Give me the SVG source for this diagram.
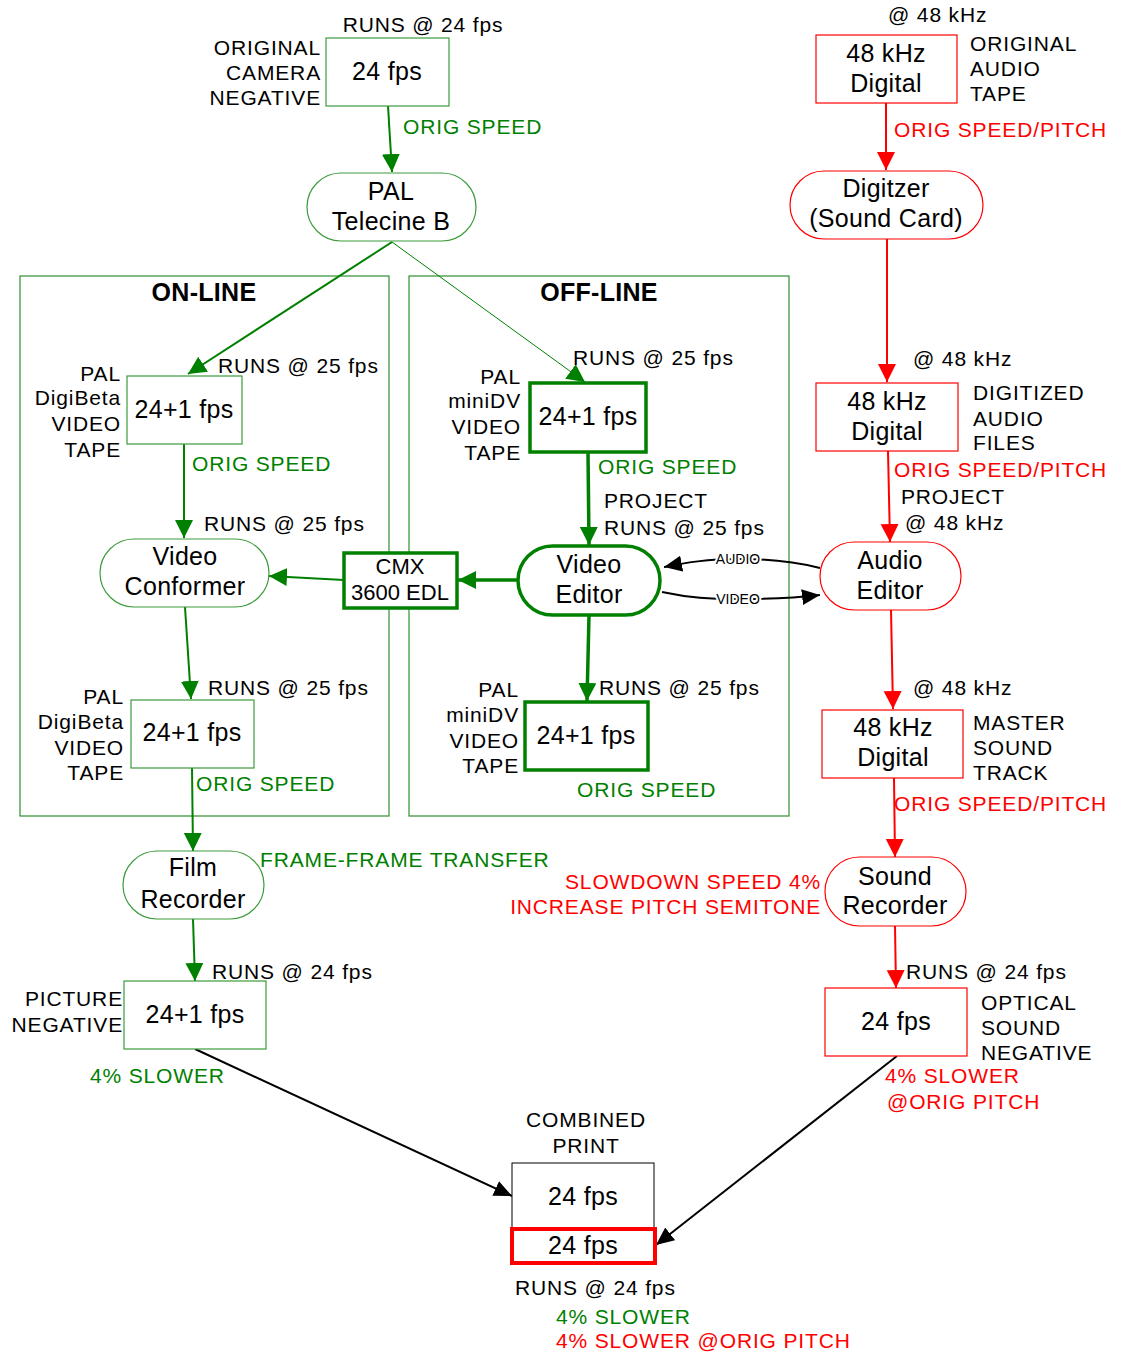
<svg xmlns="http://www.w3.org/2000/svg" width="1126" height="1354" viewBox="0 0 1126 1354">
<defs>
<style>
text{font-family:"Liberation Sans",Arial,sans-serif;fill:#000}
.l{font-size:21px;letter-spacing:0.85px}
.b{font-size:25px;letter-spacing:0.3px}
.m{font-size:22px}
.g{fill:#008000}
.r{fill:#ff0000}
.s{font-size:14px;stroke:#fff;stroke-width:4px;paint-order:stroke}
.h{font-size:25px;font-weight:bold;letter-spacing:0.3px}
.e{text-anchor:end}
.c{text-anchor:middle}
.gb{fill:#fff;stroke:#3c9c3c;stroke-width:1.2}
.gk{fill:#fff;stroke:#008000;stroke-width:3.5}
.rb{fill:#fff;stroke:#ff0000;stroke-width:1.2}
.grp{fill:none;stroke:#2f902f;stroke-width:1.2}
.ga{stroke:#008000;stroke-width:2;fill:none;marker-end:url(#ag)}
.gt{stroke:#008000;stroke-width:3.5;fill:none;marker-end:url(#ag)}
.ra{stroke:#ff0000;stroke-width:2;fill:none;marker-end:url(#ar)}
.ka{stroke:#000;stroke-width:2;fill:none;marker-end:url(#ak)}
</style>
<marker id="ag" markerUnits="userSpaceOnUse" markerWidth="20" markerHeight="20" refX="18" refY="9" orient="auto"><path d="M0,0 L18,9 L0,18 z" fill="#008000"/></marker>
<marker id="ar" markerUnits="userSpaceOnUse" markerWidth="20" markerHeight="20" refX="18" refY="9" orient="auto"><path d="M0,0 L18,9 L0,18 z" fill="#ff0000"/></marker>
<marker id="ak" markerUnits="userSpaceOnUse" markerWidth="20" markerHeight="20" refX="18" refY="8" orient="auto"><path d="M0,0 L18,8 L0,16 z" fill="#000"/></marker>
</defs>
<rect width="1126" height="1354" fill="#fff"/>

<g id="online-group"><rect class="grp" x="20" y="276" width="369" height="540"/><text class="h c" x="204" y="301">ON-LINE</text></g>
<g id="offline-group"><rect class="grp" x="409" y="276" width="380" height="540"/><text class="h c" x="599" y="301">OFF-LINE</text></g>

<g id="connectors">
<path class="ga" d="M388,106 L392,172"/>
<path class="ga" d="M392,242 L188,374"/>
<path stroke="#008000" stroke-width="1" fill="none" marker-end="url(#ag)" d="M392,242 L585,382"/>
<path class="ga" d="M184,444 L184,538"/>
<path class="ga" d="M344,580 L269,576"/>
<path class="gt" d="M518,580 L458,580"/>
<path class="gt" d="M588,452 L589,545"/>
<path class="gt" d="M589,615 L587,701"/>
<path class="ga" d="M185,607 L191,699"/>
<path class="ga" d="M192,768 L193,851"/>
<path class="ga" d="M193,919 L195,981"/>
<path class="ka" d="M195,1049 L512,1196"/>
<path class="ka" d="M897,1056 L656,1245"/>
<path class="ra" d="M886,103 L886,170"/>
<path class="ra" d="M887,239 L887,382"/>
<path class="ra" d="M888,451 L890,542"/>
<path class="ra" d="M891,610 L893,709"/>
<path class="ra" d="M894,778 L895,857"/>
<path class="ra" d="M895,926 L896,988"/>
<path class="ka" d="M820,568 C800,563 770,559 740,559 C705,559 685,563 664,567"/>
<path class="ka" d="M662,592 C690,598 710,599 738,599 C770,599 795,598 820,595"/>
<text class="s c" x="738" y="564">AUDIO</text>
<text class="s c" x="738" y="604">VIDEO</text>
</g>

<g id="camera-negative">
<rect class="gb" x="326" y="38" width="123" height="68"/>
<text class="b c" x="387" y="80">24 fps</text>
<text class="l c" x="423" y="32">RUNS @ 24 fps</text>
<text class="l e" x="321" y="55">ORIGINAL</text>
<text class="l e" x="321" y="80">CAMERA</text>
<text class="l e" x="321" y="105">NEGATIVE</text>
<text class="l g" x="403" y="134">ORIG SPEED</text>
</g>

<g id="telecine">
<rect class="gb" x="307" y="173" width="169" height="68" rx="34"/>
<text class="b c" x="391" y="200">PAL</text>
<text class="b c" x="391" y="230">Telecine B</text>
</g>

<g id="online-tape1">
<rect class="gb" x="127" y="376" width="115" height="68"/>
<text class="b c" x="184" y="418">24+1 fps</text>
<text class="l" x="218" y="373">RUNS @ 25 fps</text>
<text class="l e" x="121" y="381">PAL</text>
<text class="l e" x="121" y="405">DigiBeta</text>
<text class="l e" x="121" y="431">VIDEO</text>
<text class="l e" x="121" y="457">TAPE</text>
<text class="l g" x="192" y="471">ORIG SPEED</text>
<text class="l" x="204" y="531">RUNS @ 25 fps</text>
</g>

<g id="video-conformer">
<rect class="gb" x="100" y="539" width="169" height="68" rx="34"/>
<text class="b c" x="185" y="565">Video</text>
<text class="b c" x="185" y="595">Conformer</text>
</g>

<g id="cmx-edl">
<rect class="gk" x="344" y="553" width="113" height="55"/>
<text class="m c" x="400" y="574">CMX</text>
<text class="m c" x="400" y="600">3600 EDL</text>
</g>

<g id="offline-tape1">
<rect class="gk" x="530" y="383" width="116" height="69"/>
<text class="b c" x="588" y="425">24+1 fps</text>
<text class="l" x="573" y="365">RUNS @ 25 fps</text>
<text class="l e" x="521" y="384">PAL</text>
<text class="l e" x="521" y="408">miniDV</text>
<text class="l e" x="521" y="434">VIDEO</text>
<text class="l e" x="521" y="460">TAPE</text>
<text class="l g" x="598" y="474">ORIG SPEED</text>
<text class="l" x="604" y="508">PROJECT</text>
<text class="l" x="604" y="535">RUNS @ 25 fps</text>
</g>

<g id="video-editor">
<rect class="gk" x="518" y="546" width="142" height="69" rx="34.5"/>
<text class="b c" x="589" y="573">Video</text>
<text class="b c" x="589" y="603">Editor</text>
</g>

<g id="offline-tape2">
<rect class="gk" x="525" y="702" width="123" height="68"/>
<text class="b c" x="586" y="744">24+1 fps</text>
<text class="l" x="599" y="695">RUNS @ 25 fps</text>
<text class="l e" x="519" y="697">PAL</text>
<text class="l e" x="519" y="722">miniDV</text>
<text class="l e" x="519" y="748">VIDEO</text>
<text class="l e" x="519" y="773">TAPE</text>
<text class="l g" x="577" y="797">ORIG SPEED</text>
</g>

<g id="online-tape2">
<rect class="gb" x="131" y="700" width="123" height="68"/>
<text class="b c" x="192" y="741">24+1 fps</text>
<text class="l" x="208" y="695">RUNS @ 25 fps</text>
<text class="l e" x="124" y="704">PAL</text>
<text class="l e" x="124" y="729">DigiBeta</text>
<text class="l e" x="124" y="755">VIDEO</text>
<text class="l e" x="124" y="780">TAPE</text>
<text class="l g" x="196" y="791">ORIG SPEED</text>
</g>

<g id="film-recorder">
<rect class="gb" x="123" y="851" width="141" height="68" rx="34"/>
<text class="b c" x="193" y="876">Film</text>
<text class="b c" x="193" y="908">Recorder</text>
<text class="l g" x="260" y="867">FRAME-FRAME TRANSFER</text>
</g>

<g id="picture-negative">
<rect class="gb" x="124" y="981" width="142" height="68"/>
<text class="b c" x="195" y="1023">24+1 fps</text>
<text class="l" x="212" y="979">RUNS @ 24 fps</text>
<text class="l e" x="123" y="1006">PICTURE</text>
<text class="l e" x="123" y="1032">NEGATIVE</text>
<text class="l g" x="90" y="1083">4% SLOWER</text>
</g>

<g id="combined-print">
<rect x="512" y="1163" width="142" height="65" fill="#fff" stroke="#000" stroke-width="1"/>
<rect x="512" y="1229" width="143" height="34" fill="#fff" stroke="#ff0000" stroke-width="4"/>
<text class="b c" x="583" y="1205">24 fps</text>
<text class="b c" x="583" y="1254">24 fps</text>
<text class="l c" x="586" y="1127">COMBINED</text>
<text class="l c" x="586" y="1153">PRINT</text>
<text class="l" x="515" y="1295">RUNS @ 24 fps</text>
<text class="l g" x="556" y="1324">4% SLOWER</text>
<text class="l r" x="556" y="1348">4% SLOWER @ORIG PITCH</text>
</g>

<g id="audio-tape">
<rect class="rb" x="816" y="35" width="141" height="68"/>
<text class="b c" x="886" y="62">48 kHz</text>
<text class="b c" x="886" y="92">Digital</text>
<text class="l" x="888" y="22">@ 48 kHz</text>
<text class="l" x="970" y="51">ORIGINAL</text>
<text class="l" x="970" y="76">AUDIO</text>
<text class="l" x="970" y="101">TAPE</text>
<text class="l r" x="894" y="137">ORIG SPEED/PITCH</text>
</g>

<g id="digitizer">
<rect class="rb" x="790" y="171" width="193" height="68" rx="34"/>
<text class="b c" x="886" y="197">Digitzer</text>
<text class="b c" x="886" y="227">(Sound Card)</text>
</g>

<g id="digitized-files">
<rect class="rb" x="816" y="383" width="142" height="68"/>
<text class="b c" x="887" y="410">48 kHz</text>
<text class="b c" x="887" y="440">Digital</text>
<text class="l" x="913" y="366">@ 48 kHz</text>
<text class="l" x="973" y="400">DIGITIZED</text>
<text class="l" x="973" y="426">AUDIO</text>
<text class="l" x="973" y="450">FILES</text>
<text class="l r" x="894" y="477">ORIG SPEED/PITCH</text>
<text class="l" x="901" y="504">PROJECT</text>
<text class="l" x="905" y="530">@ 48 kHz</text>
</g>

<g id="audio-editor">
<rect class="rb" x="820" y="542" width="141" height="68" rx="34"/>
<text class="b c" x="890" y="569">Audio</text>
<text class="b c" x="890" y="599">Editor</text>
</g>

<g id="master-sound">
<rect class="rb" x="822" y="710" width="141" height="68"/>
<text class="b c" x="893" y="736">48 kHz</text>
<text class="b c" x="893" y="766">Digital</text>
<text class="l" x="913" y="695">@ 48 kHz</text>
<text class="l" x="973" y="730">MASTER</text>
<text class="l" x="973" y="755">SOUND</text>
<text class="l" x="973" y="780">TRACK</text>
<text class="l r" x="894" y="811">ORIG SPEED/PITCH</text>
</g>

<g id="sound-recorder">
<rect class="rb" x="825" y="857" width="141" height="69" rx="34.5"/>
<text class="b c" x="895" y="885">Sound</text>
<text class="b c" x="895" y="914">Recorder</text>
<text class="l r e" x="821" y="889">SLOWDOWN SPEED 4%</text>
<text class="l r e" x="821" y="914">INCREASE PITCH SEMITONE</text>
</g>

<g id="optical-negative">
<rect class="rb" x="825" y="988" width="142" height="68"/>
<text class="b c" x="896" y="1030">24 fps</text>
<text class="l" x="906" y="979">RUNS @ 24 fps</text>
<text class="l" x="981" y="1010">OPTICAL</text>
<text class="l" x="981" y="1035">SOUND</text>
<text class="l" x="981" y="1060">NEGATIVE</text>
<text class="l r" x="885" y="1083">4% SLOWER</text>
<text class="l r" x="887" y="1109">@ORIG PITCH</text>
</g>
</svg>
